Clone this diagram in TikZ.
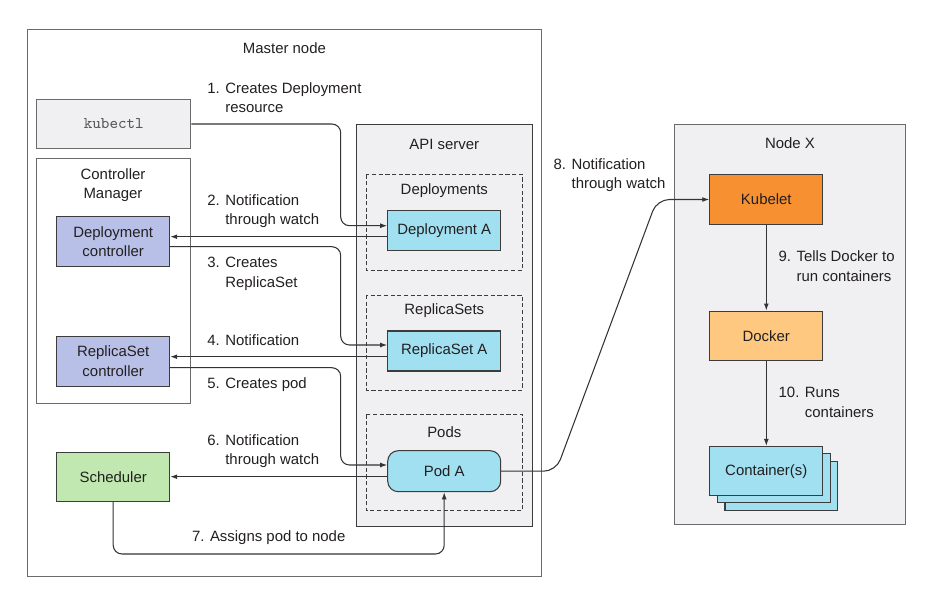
\documentclass[tikz,border=0pt]{standalone}
\usepackage{fontspec}
\setmainfont{Liberation Sans}
\usetikzlibrary{arrows.meta, calc}

\definecolor{panel}{HTML}{F0F0F2}
\definecolor{lavender}{HTML}{B8C0E8}
\definecolor{leaf}{HTML}{C0E8B0}
\definecolor{sky}{HTML}{A0E0F0}
\definecolor{kubeorange}{HTML}{F79030}
\definecolor{dockerorange}{HTML}{FEC880}
\definecolor{boxline}{HTML}{3C3C3C}
\definecolor{outline}{HTML}{6A6A6A}
\definecolor{connline}{HTML}{333333}
\definecolor{ink}{HTML}{231F20}

\begin{document}
\begin{tikzpicture}[x=0.02cm, y=-0.02cm, font=\fontsize{8.5}{11.1}\selectfont, text=ink,
    box/.style={draw=boxline, line width=0.6pt, minimum width=2.26cm, minimum height=0.99cm, align=center, inner sep=0pt},
    small box/.style={box, minimum height=0.8cm},
    group/.style={draw=boxline, dash pattern=on 2.4pt off 1.4pt, line width=0.5pt},
    conn/.style={draw=connline, line width=0.6pt, rounded corners=5pt, -{Latex[length=4pt,width=2.8pt]}},
    stepnote/.style={anchor=west, align=left, inner sep=0pt}]
        \useasboundingbox (0,0) rectangle (949,591);

        % master node
        \draw[outline, line width=0.8pt] (27.3,29.3) rectangle (541.5,576.7);
        \node (master) at (284.4,48.3) {Master node};
        \node[box, fill=panel, draw=outline, minimum width=3.08cm, font=\ttfamily\fontsize{9.3}{11.1}\selectfont, text=black!65] (kubectl) at (113.8,124) {kubectl};
        \draw[outline, line width=0.6pt, fill=white] (36.9,158.3) rectangle (190.7,403.3);
        \node[align=center] (cm) at (113,185.3) {Controller\\Manager};
        \node[box, fill=lavender] (depctl) at (113.2,241.7) {Deployment\\controller};
        \node[box, fill=lavender] (rsctl) at (113.2,361.3) {ReplicaSet\\controller};
        \node[box, fill=leaf] (sched) at (113.2,476.8) {Scheduler};

        % api server
        \filldraw[fill=panel, draw=boxline, line width=0.6pt] (356.4,124.3) rectangle (532.7,526.5);
        \node (api) at (444.3,144) {API server};
        \draw[group] (366.2,174.3) rectangle (522.5,270);
        \draw[group] (366.2,295) rectangle (522.5,390);
        \draw[group] (366.2,414.3) rectangle (522.5,510.5);
        \node (deps) at (444.3,191) {Deployments};
        \node (rss) at (444.3,311) {ReplicaSets};
        \node (pods) at (444.3,431.7) {Pods};
        \node[small box, fill=sky] (depA) at (444.2,230.7) {Deployment A};
        \node[small box, fill=sky] (rsA) at (444.2,351) {ReplicaSet A};
        \node[small box, fill=sky, rounded corners=6pt, minimum height=0.82cm] (podA) at (444.2,471.2) {Pod A};

        % worker node
        \filldraw[fill=panel, draw=outline, line width=0.8pt] (674.3,124.3) rectangle (905.5,524.5);
        \node (nodex) at (790,143.3) {Node X};
        \node[box, fill=kubeorange] (kubelet) at (766.3,199.5) {Kubelet};
        \node[box, fill=dockerorange] (docker) at (766.3,335.8) {Docker};
        \filldraw[fill=sky, draw=boxline, line width=0.6pt] (725,461.3) rectangle (837.7,510.3);
        \filldraw[fill=sky, draw=boxline, line width=0.6pt] (717.5,453.8) rectangle (830.2,502.8);
        \node[box, fill=sky] (cont) at (766.3,471.2) {Container(s)};

        % steps
        \draw[conn] (kubectl.east) -- (340.7,124) |- (depA.west |- 0,225.7);
        \draw[conn] (depA.west |- 0,236.7) -- (depctl.east |- 0,236.7);
        \draw[conn] (depctl.east |- 0,246.7) -- (340.7,246.7) |- (rsA.west |- 0,345);
        \draw[conn] (rsA.west |- 0,356.7) -- (rsctl.east |- 0,356.7);
        \draw[conn] (rsctl.east |- 0,367.7) -- (340.7,367.7) |- (podA.west |- 0,465);
        \draw[conn] (podA.west |- 0,476.7) -- (sched.east |- 0,476.7);
        \draw[conn] (sched.south) -- (sched.south |- 0,554) -| (podA.south);
        \draw[conn, rounded corners=7pt] (podA.east) -- (556,471.2) -- (657,199.5) -- (kubelet.west);
        \draw[conn] (kubelet) -- (docker);
        \draw[conn] (docker) -- (cont);

        \node[stepnote] (s1) at (207,97.7) {1. Creates Deployment\\\hphantom{1. }resource};
        \node[stepnote] (s2) at (207,211) {2. Notification\\\hphantom{2. }through watch};
        \node[stepnote] (s3) at (207,273.7) {3. Creates\\\hphantom{3. }ReplicaSet};
        \node[stepnote] (s4) at (207,340) {4. Notification};
        \node[stepnote] (s5) at (207,385) {5. Creates pod};
        \node[stepnote] (s6) at (207,451.2) {6. Notification\\\hphantom{6. }through watch};
        \node[stepnote] (s7) at (191.7,538) {7. Assigns pod to node};
        \node[stepnote] (s8) at (553.3,175.3) {8. Notification\\\hphantom{8. }through watch};
        \node[stepnote] (s9) at (778.3,266.3) {9. Tells Docker to\\\hphantom{9. }run containers};
        \node[stepnote] (s10) at (778.3,402.3) {10. Runs\\\hphantom{10. }containers};
    \end{tikzpicture}
\end{document}
